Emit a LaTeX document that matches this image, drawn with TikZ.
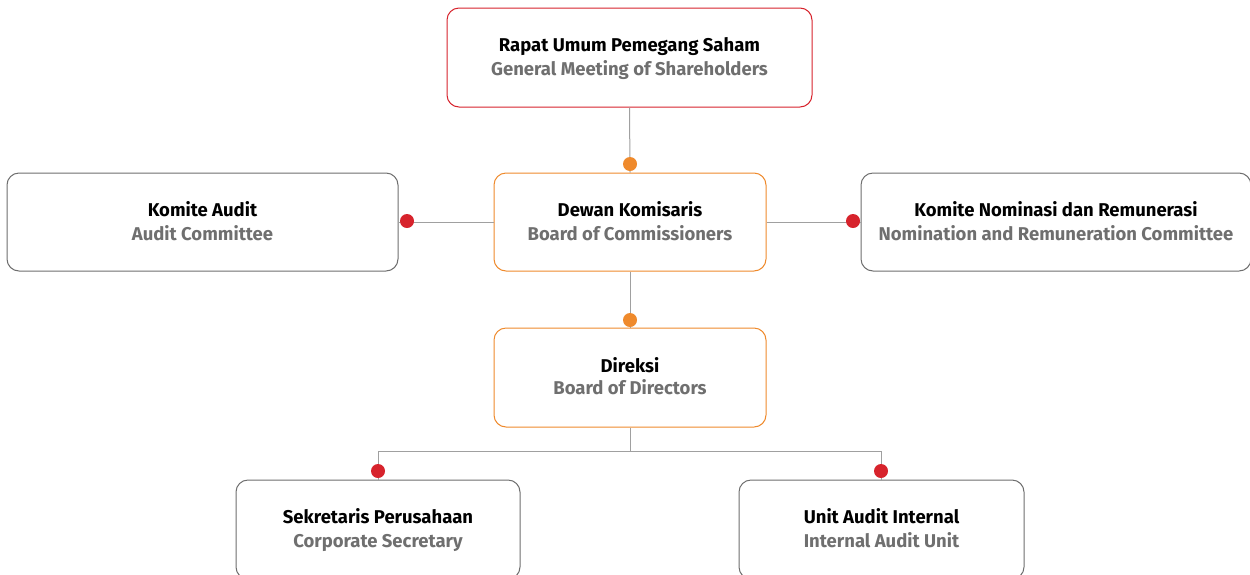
\documentclass[tikz,border=0pt]{standalone}
\usepackage{fontspec}
\setmainfont{Fira Sans}
\definecolor{redc}{HTML}{D7232C}
\definecolor{orangec}{HTML}{EF8A2C}
\definecolor{grayb}{HTML}{6E6E6E}
\definecolor{linec}{HTML}{A0A0A0}
\definecolor{subc}{HTML}{6F6F6F}
\tikzset{
  box/.style={draw, rounded corners=12pt, line width=1pt, fill=white, inner sep=0pt, align=center, font=\fontsize{18.5}{24}\selectfont\bfseries},
  redbox/.style={box, draw=redc},
  orbox/.style={box, draw=orangec},
  grbox/.style={box, draw=grayb},
  conn/.style={draw=linec, line width=1pt},
  reddot/.style={circle, fill=redc, inner sep=0pt, minimum size=14pt},
  ordot/.style={circle, fill=orangec, inner sep=0pt, minimum size=14pt},
}
\newcommand{\tl}[2]{\rule[-7.2pt]{0pt}{26.4pt}#1\\\strut\textcolor{subc}{#2}}
\begin{document}
\begin{tikzpicture}[x=1pt,y=-1pt]
\useasboundingbox (0,0) rectangle (1250,574);
% boxes
\node[redbox, minimum width=365pt, minimum height=99pt] (gms) at (629.5,57.5) {\tl{Rapat Umum Pemegang Saham}{General Meeting of Shareholders}};
\node[orbox, minimum width=272pt, minimum height=98pt] (boc) at (630,222) {\tl{Dewan Komisaris}{Board of Commissioners}};
\node[grbox, minimum width=391pt, minimum height=98pt] (ac) at (202.5,222) {\tl{Komite Audit}{Audit Committee}};
\node[grbox, minimum width=390pt, minimum height=98pt] (nrc) at (1056,222) {\tl{Komite Nominasi dan Remunerasi}{Nomination and Remuneration Committee}};
\node[orbox, minimum width=272pt, minimum height=99pt, font=\fontsize{18.5}{20}\selectfont\bfseries] (bod) at (630,377.5) {\rule[-6pt]{0pt}{23pt}Direksi\\\rule[-6pt]{0pt}{20pt}\textcolor{subc}{Board of Directors}};
\node[grbox, minimum width=284pt, minimum height=99pt] (cs) at (378,529.5) {\tl{Sekretaris Perusahaan}{Corporate Secretary}};
\node[grbox, minimum width=285pt, minimum height=99pt] (iau) at (881.5,529.5) {\tl{Unit Audit Internal}{Internal Audit Unit}};
% connectors
\coordinate (j) at (630,451);
\coordinate (jl) at (378,451);
\coordinate (jr) at (881,451);
\draw[conn] (gms.south) -- (boc.north);
\draw[conn] (boc.west) -- (ac.east);
\draw[conn] (boc.east) -- (nrc.west);
\draw[conn] (boc.south) -- (bod.north);
\draw[conn] (bod.south) -- (j) -- (jl) -- (jl |- cs.north);
\draw[conn] (j) -- (jr) -- (jr |- iau.north);
% dots
\node[ordot] (d1) at (630,164) {};
\node[ordot] (d2) at (630,320) {};
\node[reddot] (d3) at (407,221) {};
\node[reddot] (d4) at (853,221) {};
\node[reddot] (d5) at (378,471) {};
\node[reddot] (d6) at (881,471) {};
\end{tikzpicture}
\end{document}
